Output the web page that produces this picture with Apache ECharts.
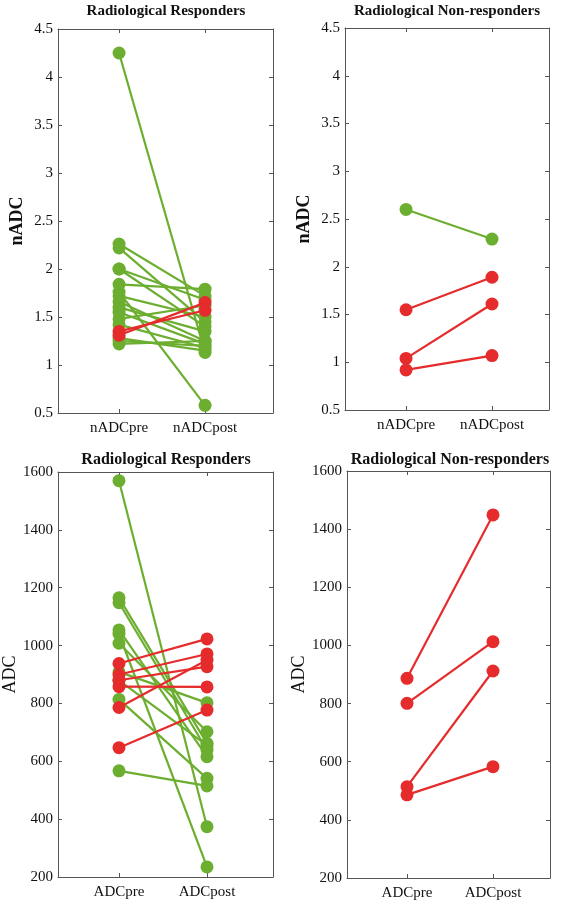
<!DOCTYPE html>
<html>
<head>
<meta charset="utf-8">
<script src="https://cdn.jsdelivr.net/npm/echarts@6/dist/echarts.min.js"></script>
<style>html,body{margin:0;padding:0;background:#fff}#c{width:566px;height:905px}</style>
</head>
<body>
<div id="c"></div>
<script>
// ---- data ----
const nadcCats = ['nADCpre', 'nADCpost'];
const adcCats = ['ADCpre', 'ADCpost'];
const nadcTicks = [0.5, 1, 1.5, 2, 2.5, 3, 3.5, 4, 4.5];
const adcTicks = [200, 400, 600, 800, 1000, 1200, 1400, 1600];

// Radiological responders, nADC  [pre, post]
const nadcRespGreen = [
  [4.25, 1.13], [2.26, 1.72], [2.22, 1.45], [2.0, 1.68], [2.0, 1.40],
  [1.84, 1.79], [1.76, 0.58], [1.72, 1.50], [1.66, 1.25], [1.60, 1.35],
  [1.55, 1.22], [1.48, 1.62], [1.42, 1.18], [1.28, 1.15], [1.25, 1.20], [1.22, 1.25]
];
const nadcRespRed = [[1.35, 1.57], [1.31, 1.65]];
// Radiological non-responders, nADC
const nadcNonGreen = [[2.60, 2.29]];
const nadcNonRed = [[1.55, 1.89], [1.04, 1.61], [0.92, 1.07]];
// Radiological responders, ADC
const adcRespGreen = [
  [1570, 374], [1165, 662], [1148, 639], [1054, 616], [1040, 235],
  [1008, 702], [909, 802], [880, 655], [814, 541], [567, 515]
];
const adcRespRed = [[938, 1023], [900, 971], [880, 927], [858, 857], [786, 950], [647, 777]];
// Radiological non-responders, ADC
const adcNonRed = [[887, 1449], [801, 1013], [514, 912], [486, 583]];

const GREEN = '#6cae30';
const RED = '#e52b2b';
const AXC = '#555';
const FONT = '"Liberation Serif", "Times New Roman", serif';

const panels = [
  {grid:{left:58, top:29, width:215, height:384}, xmin:0.29, xmax:2.79, ymin:0.5, ymax:4.5, yint:0.5, ticks:nadcTicks, cats:nadcCats, name:'nADC', green:nadcRespGreen, red:nadcRespRed},
  {grid:{left:345, top:28, width:204, height:382}, xmin:0.29, xmax:2.663, ymin:0.5, ymax:4.5, yint:0.5, ticks:nadcTicks, cats:nadcCats, name:'nADC', green:nadcNonGreen, red:nadcNonRed},
  {grid:{left:58, top:472, width:215, height:405}, xmin:0.307, xmax:2.75, ymin:200, ymax:1600, yint:200, ticks:adcTicks, cats:adcCats, name:'ADC', green:adcRespGreen, red:adcRespRed},
  {grid:{left:347, top:471, width:203, height:407}, xmin:0.302, xmax:2.663, ymin:200, ymax:1600, yint:200, ticks:adcTicks, cats:adcCats, name:'ADC', green:[], red:adcNonRed}
];

const grid = [], xAxis = [], yAxis = [], series = [];
panels.forEach((p, i) => {
  grid.push(Object.assign({outerBoundsMode:'none', containLabel:false}, p.grid));
  const line = {show:true, lineStyle:{color:AXC, width:1}};
  const tickBase = {show:true, inside:true, length:4, lineStyle:{color:AXC}, customValues:[1, 2]};
  xAxis.push({type:'value', gridIndex:i, min:p.xmin, max:p.xmax, position:'bottom',
    axisLine:line, axisTick:tickBase, splitLine:{show:false},
    axisLabel:{show:true, customValues:[1, 2], formatter:v => p.cats[Math.round(v) - 1], margin:8,
      fontFamily:FONT, fontSize:15, color:'#111'}});
  xAxis.push({type:'value', gridIndex:i, min:p.xmin, max:p.xmax, position:'top',
    axisLine:line, axisTick:tickBase, splitLine:{show:false}, axisLabel:{show:false}});
  const ytick = {show:true, inside:true, length:4, lineStyle:{color:AXC}};
  yAxis.push({type:'value', gridIndex:i, min:p.ymin, max:p.ymax, interval:p.yint, position:'left',
    axisLine:line, axisTick:ytick, splitLine:{show:false},
    name:p.name, nameLocation:'middle', nameRotate:90, nameGap:i < 2 ? 32 : 34,
    nameTextStyle:{fontFamily:FONT, fontSize:18, fontWeight: i < 2 ? 'bold' : 'normal', color:'#111'},
    axisLabel:{margin:5, fontFamily:FONT, fontSize:15, color:'#111',
      formatter:v => String(p.ticks.find(t => Math.abs(t - v) < 1e-6) ?? v)}});
  yAxis.push({type:'value', gridIndex:i, min:p.ymin, max:p.ymax, interval:p.yint, position:'right',
    axisLine:line, axisTick:ytick, splitLine:{show:false}, axisLabel:{show:false}});
  const mk = (pair, color, z) => ({type:'line', xAxisIndex:2 * i, yAxisIndex:2 * i,
    data:[[1, pair[0]], [2, pair[1]]], symbol:'circle', symbolSize:13, showSymbol:true,
    lineStyle:{color, width:2.2}, itemStyle:{color}, z, silent:true, animation:false});
  p.green.forEach(pr => series.push(mk(pr, GREEN, 2)));
  p.red.forEach(pr => series.push(mk(pr, RED, 3)));
});

const titles = [
  {text:'Radiological Responders', x:166, y:11, size:15},
  {text:'Radiological Non-responders', x:447, y:11, size:15},
  {text:'Radiological Responders', x:166, y:460, size:16},
  {text:'Radiological Non-responders', x:450, y:460, size:16}
];
const graphic = titles.map(t => ({type:'text', x:t.x, y:t.y,
  style:{text:t.text, align:'center', verticalAlign:'middle', fill:'#111',
    font:'bold ' + t.size + 'px ' + FONT}}));

const chart = echarts.init(document.getElementById('c'), null, {renderer:'canvas'});
chart.setOption({animation:false, backgroundColor:'#fff', grid, xAxis, yAxis, series, graphic});
</script>
</body>
</html>
